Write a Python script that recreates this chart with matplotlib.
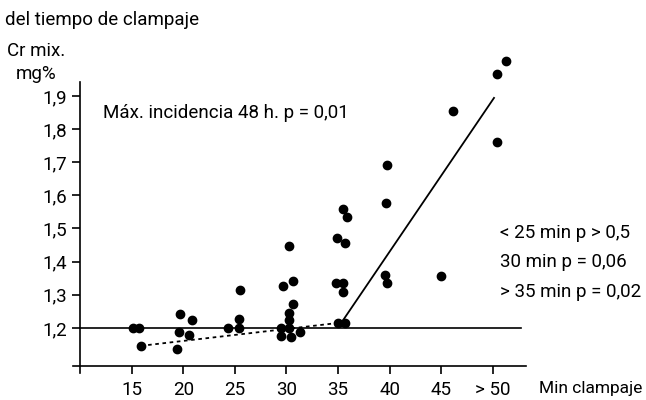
import matplotlib
matplotlib.use("Agg")
import matplotlib.pyplot as plt

plt.rcParams['font.family'] = ['Roboto', 'DejaVu Sans']

# puntos: tiempo de clampaje (min) vs Cr mix. (mg%)
tiempo = [15.1, 15.7, 15.9,
          19.7, 20.8, 19.6, 20.6, 19.4,
          24.3, 25.4, 25.4, 25.5,
          29.5, 30.2, 29.5, 30.4, 31.3, 30.2, 30.2, 30.6, 29.7, 30.6, 30.2,
          35.0, 35.7, 34.8, 35.5, 35.5, 34.9, 35.7, 35.5, 35.9,
          39.7, 39.6, 39.5, 39.7,
          45.0, 46.1, 50.4, 50.4, 51.3]
creat = [1.20, 1.20, 1.146,
         1.242, 1.224, 1.188, 1.179, 1.137,
         1.20, 1.20, 1.227, 1.315,
         1.20, 1.20, 1.176, 1.173, 1.188, 1.224, 1.245, 1.273, 1.327, 1.342, 1.448,
         1.215, 1.215, 1.336, 1.336, 1.309, 1.472, 1.457, 1.56, 1.535,
         1.692, 1.578, 1.36, 1.336,
         1.357, 1.856, 1.762, 1.967, 2.004]

# rectas de tendencia
recta_baja_x = [15.9, 35.0]
recta_baja_y = [1.146, 1.215]
recta_alta_x = [35.3, 50.1]
recta_alta_y = [1.215, 1.894]

xticks = [15, 20, 25, 30, 35, 40, 45, 50]
xlabels = ['15', '20', '25', '30', '35', '40', '45', '> 50']
yticks = [1.2, 1.3, 1.4, 1.5, 1.6, 1.7, 1.8, 1.9]
ylabels = ['1,2', '1,3', '1,4', '1,5', '1,6', '1,7', '1,8', '1,9']

W, H = 646, 400
fig = plt.figure(figsize=(W / 100, H / 100), dpi=100)
ax = fig.add_axes([73 / W, 27 / H, 453 / W, 291 / H])

ax.set_xlim(9.32, 53.2)
ax.set_ylim(1.064, 1.942)

ax.spines['top'].set_visible(False)
ax.spines['right'].set_visible(False)
ax.spines['left'].set_position(('data', 10))
ax.spines['bottom'].set_position(('data', 1.085))
for s in ('left', 'bottom'):
    ax.spines[s].set_linewidth(1.2)

ax.axhline(1.2, xmin=(10 - 9.32) / (53.2 - 9.32), xmax=(52.7 - 9.32) / (53.2 - 9.32),
           color='black', lw=1.2)
ax.plot(recta_baja_x, recta_baja_y, color='black', lw=1.3, linestyle=(0, (2, 2)))
ax.plot(recta_alta_x, recta_alta_y, color='black', lw=1.3)
ax.plot(tiempo, creat, 'o', color='black', ms=6, clip_on=False)

ax.set_xticks(xticks, xlabels)
ax.set_yticks(yticks, ylabels)
ax.tick_params(axis='both', direction='out', length=6, width=1.2, labelsize=13.5)
ax.tick_params(axis='x', pad=5)
ax.tick_params(axis='y', pad=3)


def txt(x, y, s, size=13.5, **kw):
    fig.text(x / W, 1 - y / H, s, fontsize=size, va='center', **kw)


txt(5, 20, 'del tiempo de clampaje')
txt(36, 51, 'Cr mix.', ha='center')
txt(36, 74, 'mg%', ha='center')
txt(103, 113, 'Máx. incidencia 48 h. p = 0,01')
txt(500, 233, '< 25 min p > 0,5')
txt(500, 262, '30 min p = 0,06')
txt(500, 292, '> 35 min p = 0,02')
txt(642, 388, 'Min clampaje', size=12.5, ha='right')

fig.savefig('out.png', dpi=100)
